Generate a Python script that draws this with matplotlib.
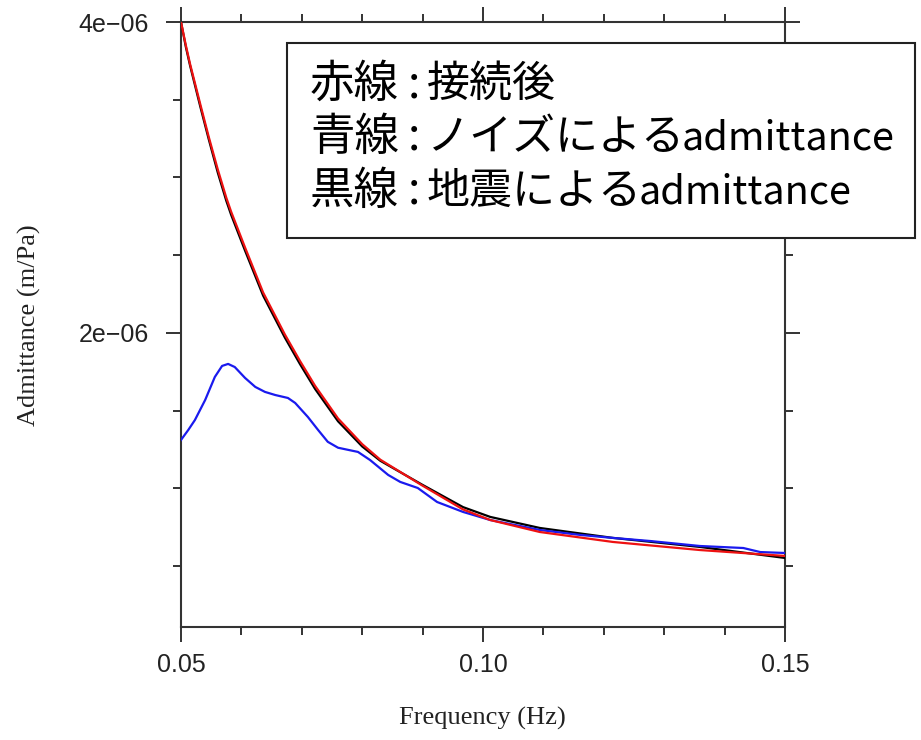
import matplotlib
matplotlib.use("Agg")
import matplotlib.pyplot as plt
import numpy as np
from matplotlib.ticker import MultipleLocator, FuncFormatter
from matplotlib.patches import Rectangle

# ── Data ──
freq_red = [0.0500, 0.0508, 0.0515, 0.0532, 0.0546, 0.0561, 0.0575, 0.0583,
            0.0606, 0.0636, 0.0672, 0.0697, 0.0722, 0.0760, 0.0800, 0.0830,
            0.0899, 0.0967, 0.1012, 0.1094, 0.1215, 0.1359, 0.1500]
adm_red = [4.000, 3.850, 3.730, 3.470, 3.260, 3.050, 2.870, 2.780,
           2.550, 2.260, 1.990, 1.820, 1.660, 1.450, 1.285, 1.185,
           1.020, 0.865, 0.797, 0.720, 0.656, 0.604, 0.566]

freq_black = [0.0500, 0.0508, 0.0515, 0.0532, 0.0546, 0.0561, 0.0575, 0.0583,
              0.0606, 0.0636, 0.0672, 0.0697, 0.0722, 0.0760, 0.0800, 0.0830,
              0.0899, 0.0967, 0.1012, 0.1094, 0.1215, 0.1359, 0.1500]
adm_black = [4.000, 3.840, 3.720, 3.455, 3.245, 3.030, 2.850, 2.760,
             2.530, 2.240, 1.970, 1.800, 1.640, 1.432, 1.270, 1.178,
             1.025, 0.880, 0.817, 0.746, 0.682, 0.624, 0.553]

freq_blue = [0.0500, 0.0512, 0.0523, 0.0540, 0.0556, 0.0568, 0.0578, 0.0589,
             0.0606, 0.0623, 0.0639, 0.0656, 0.0677, 0.0689, 0.0710, 0.0727,
             0.0743, 0.0760, 0.0777, 0.0793, 0.0813, 0.0843, 0.0863, 0.0892,
             0.0924, 0.0967, 0.1012, 0.1094, 0.1161, 0.1215, 0.1277, 0.1359,
             0.1392, 0.1431, 0.1459, 0.1500]
adm_blue = [1.312, 1.376, 1.440, 1.569, 1.717, 1.788, 1.801, 1.781,
            1.711, 1.653, 1.621, 1.601, 1.582, 1.550, 1.460, 1.376,
            1.300, 1.262, 1.248, 1.235, 1.183, 1.087, 1.042, 1.003,
            0.913, 0.849, 0.797, 0.733, 0.701, 0.682, 0.662, 0.630,
            0.624, 0.617, 0.591, 0.585]

# legend text: line name, description (CJK part), latin suffix
legend_names = ["赤線", "青線", "黒線"]
legend_desc = ["接続後", "ノイズによる", "地震による"]
legend_latin = ["", "admittance", "admittance"]

scale = 1e-6

# ── Figure ──
fig = plt.figure(figsize=(9.21, 7.40), dpi=100)
ax = fig.add_axes([181 / 921, 1 - 627 / 740, 604 / 921, 605 / 740])

ax.plot(freq_black, np.array(adm_black) * scale, color="black", lw=1.6,
        zorder=3, solid_joinstyle="round")
ax.plot(freq_blue, np.array(adm_blue) * scale, color="#1a1aee", lw=1.6,
        zorder=3, solid_joinstyle="round")
ax.plot(freq_red, np.array(adm_red) * scale, color="#ee1111", lw=1.6,
        zorder=4, solid_joinstyle="round")

ax.set_xlim(0.05, 0.15)
ax.set_ylim(0.109e-6, 4e-6)

ax.xaxis.set_major_locator(MultipleLocator(0.05))
ax.xaxis.set_minor_locator(MultipleLocator(0.01))
ax.yaxis.set_major_locator(MultipleLocator(2e-6))
ax.yaxis.set_minor_locator(MultipleLocator(0.5e-6))
ax.xaxis.set_major_formatter(FuncFormatter(lambda v, p: f"{v:.2f}"))
ax.yaxis.set_major_formatter(
    FuncFormatter(lambda v, p: f"{v:.0e}".replace("-", "\u2212") if v > 0 else ""))

ax.tick_params(which="both", direction="out", top=True, right=True,
               width=1.4, color="#333333")
ax.tick_params(which="major", length=11, pad=12, labelsize=18,
               labelcolor="#222222")
ax.tick_params(which="minor", length=6)
ax.tick_params(axis="x", which="major", pad=8)
for lab in ax.get_xticklabels() + ax.get_yticklabels():
    lab.set_family("Liberation Sans")

for s in ax.spines.values():
    s.set_linewidth(1.5)
    s.set_color("#333333")

fig.text(482 / 921, 1 - 718 / 740, "Frequency (Hz)", ha="center", va="center",
         family="Liberation Serif", fontsize=19, color="#222222")
fig.text(29 / 921, 1 - 325 / 740, "Admittance (m/Pa)", ha="center", va="center",
         rotation=90, family="Liberation Serif", fontsize=19, color="#222222")

# ── Legend box ──
box = Rectangle((287 / 921, 1 - 238 / 740), 628 / 921, 195 / 740,
                transform=fig.transFigure, facecolor="white", edgecolor="#222222",
                lw=1.5, zorder=10)
fig.patches.append(box)

jp = ["Noto Sans CJK JP", "DejaVu Sans"]
renderer = fig.canvas.get_renderer()
baselines = [97, 150, 204]
for name, desc, latin, yb in zip(legend_names, legend_desc, legend_latin, baselines):
    yf = 1 - yb / 740
    fig.text(310 / 921, yf, name, ha="left", va="baseline", family=jp,
             fontsize=32, zorder=11)
    fig.text(414 / 921, yf, ":", ha="center", va="baseline", family=jp,
             fontsize=32, zorder=11)
    t = fig.text(427 / 921, yf, desc, ha="left", va="baseline", family=jp,
                 fontsize=31, zorder=11)
    if latin:
        x_end = t.get_window_extent(renderer).x1
        fig.text((x_end - 3) / 921, yf, latin, ha="left", va="baseline",
                 family=jp, fontsize=28.5, zorder=11)

fig.savefig("out.png", dpi=100)
